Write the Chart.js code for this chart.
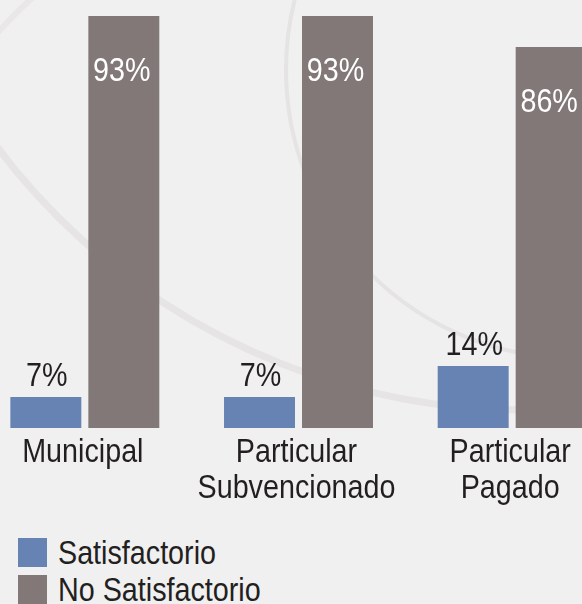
<!DOCTYPE html>
<html lang="es">
<head>
<meta charset="utf-8">
<script src="https://cdn.jsdelivr.net/npm/chart.js@4.4.1/dist/chart.umd.min.js"></script>
<style>
    html, body { margin: 0; padding: 0; width: 582px; height: 604px; overflow: hidden; background: #f0f0f0; }
    #wrap { position: absolute; left: -22px; top: 0; width: 641px; height: 508px; }
    #legend { position: absolute; left: 18px; top: 538px; font-family: 'Liberation Sans', Arial, sans-serif; font-size: 33px; color: #231f20; }
    .item { height: 29px; line-height: 29px; margin-bottom: 8px; white-space: nowrap; }
    .box { display: inline-block; width: 29px; height: 29px; vertical-align: top; margin-right: 11px; }
    .txt { display: inline-block; vertical-align: top; transform: scaleX(0.87); transform-origin: left center; }
</style>
</head>
<body>
<div id="wrap"><canvas id="barChart" width="641" height="508"></canvas></div>
<div id="legend"></div>
<script>
const categories = [['Municipal'], ['Particular', 'Subvencionado'], ['Particular', 'Pagado']];
const seriesNames = ['Satisfactorio', 'No Satisfactorio'];
const satisfactorio = [7, 7, 14];
const noSatisfactorio = [93, 93, 86];
const seriesColors = ['#6783b3', '#817877'];

const labelFont = '33px "Liberation Sans", Arial, sans-serif';
const textColor = '#231f20';
const narrow = 0.87; // the original face is a condensed one

// fillText squeezed horizontally around x
function drawNarrow(ctx, text, x, y) {
    ctx.save();
    ctx.translate(x, y);
    ctx.scale(narrow, 1);
    ctx.fillText(text, 0, 0);
    ctx.restore();
}

// decorative rings behind the bars (page coords, canvas is shifted 22px left)
const backgroundArcs = {
    id: 'backgroundArcs',
    beforeDraw(chart) {
        const ctx = chart.ctx;
        const sx = 22;
        ctx.save();
        ctx.fillStyle = '#f0f0f0';
        ctx.fillRect(0, 0, chart.width, chart.height);

        ctx.strokeStyle = '#e6e4e4';
        ctx.lineWidth = 7;
        ctx.beginPath();
        ctx.arc(524 + sx, -249, 659, 0, Math.PI * 2);
        ctx.stroke();

        ctx.strokeStyle = '#e5e3e3';
        ctx.lineWidth = 4;
        ctx.beginPath();
        ctx.arc(574 + sx, 70, 288, 0, Math.PI * 2);
        ctx.stroke();

        ctx.strokeStyle = '#e9e7e7';
        ctx.lineWidth = 6;
        ctx.beginPath();
        ctx.arc(330 + sx, 330, 446, -Math.PI * 150 / 180, -Math.PI * 120 / 180);
        ctx.stroke();
        ctx.restore();
    }
};

// percentage labels over / inside the bars
const valueLabels = {
    id: 'valueLabels',
    afterDatasetsDraw(chart) {
        const ctx = chart.ctx;
        ctx.save();
        ctx.font = labelFont;
        ctx.textAlign = 'center';
        ctx.textBaseline = 'alphabetic';
        chart.data.datasets.forEach((ds, i) => {
            chart.getDatasetMeta(i).data.forEach((bar, j) => {
                const text = ds.data[j] + '%';
                if (i === 0) {
                    ctx.fillStyle = textColor;
                    drawNarrow(ctx, text, bar.x + 1, bar.y - 11);
                } else {
                    ctx.fillStyle = '#ffffff';
                    drawNarrow(ctx, text, bar.x - 2, bar.y + 65);
                }
            });
        });
        ctx.restore();
    }
};

// category names under the groups, placed with the x scale
const categoryLabels = {
    id: 'categoryLabels',
    afterDraw(chart) {
        const ctx = chart.ctx;
        const xScale = chart.scales.x;
        ctx.save();
        ctx.font = labelFont;
        ctx.fillStyle = textColor;
        ctx.textAlign = 'center';
        ctx.textBaseline = 'alphabetic';
        chart.data.labels.forEach((lines, i) => {
            const x = xScale.getPixelForValue(i) - 2;
            lines.forEach((line, k) => {
                drawNarrow(ctx, line, x, chart.chartArea.bottom + 34 + k * 36);
            });
        });
        ctx.restore();
    }
};

const chart = new Chart(document.getElementById('barChart').getContext('2d'), {
    type: 'bar',
    data: {
        labels: categories,
        datasets: [{
            label: seriesNames[0],
            data: satisfactorio,
            backgroundColor: seriesColors[0],
            borderWidth: 0
        }, {
            label: seriesNames[1],
            data: noSatisfactorio,
            backgroundColor: seriesColors[1],
            borderWidth: 0
        }]
    },
    options: {
        responsive: false,
        animation: false,
        devicePixelRatio: 1,
        categoryPercentage: 0.73,
        barPercentage: 0.91,
        layout: { padding: { top: 0, left: 0, right: 0, bottom: 80 } },
        plugins: {
            legend: { display: false },
            tooltip: { enabled: false }
        },
        scales: {
            x: {
                grid: { display: false, drawTicks: false },
                border: { display: false },
                ticks: { display: false }
            },
            y: {
                display: false,
                min: 0,
                max: 96.6
            }
        }
    },
    plugins: [backgroundArcs, valueLabels, categoryLabels]
});

// legend built from the chart datasets
const legend = document.getElementById('legend');
chart.data.datasets.forEach(ds => {
    const row = document.createElement('div');
    row.className = 'item';
    const box = document.createElement('span');
    box.className = 'box';
    box.style.background = ds.backgroundColor;
    const txt = document.createElement('span');
    txt.className = 'txt';
    txt.textContent = ds.label;
    row.appendChild(box);
    row.appendChild(txt);
    legend.appendChild(row);
});
</script>
</body>
</html>
